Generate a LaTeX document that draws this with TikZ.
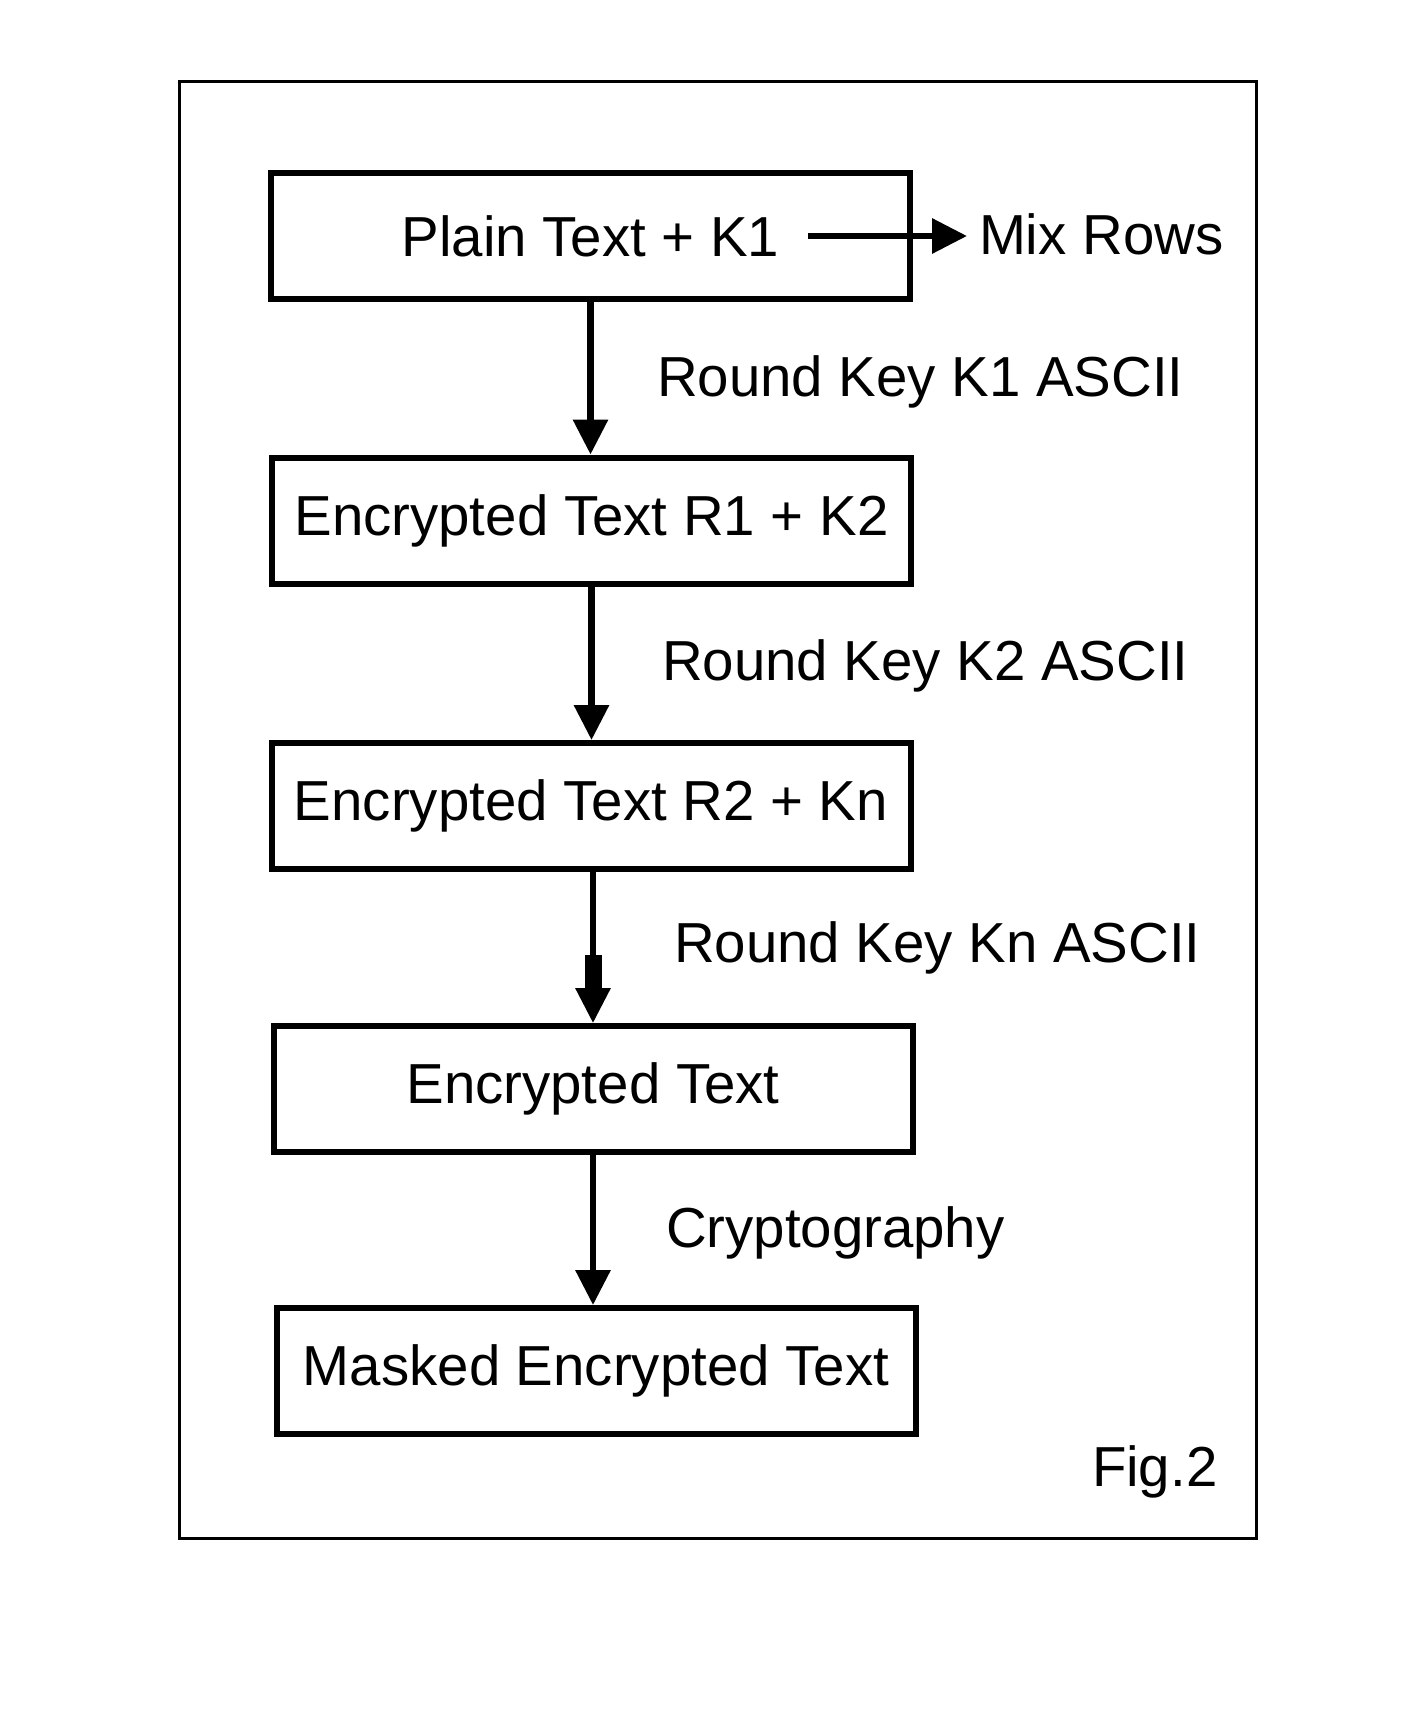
\documentclass[tikz,border=0pt]{standalone}
\usepackage{fontspec}
\setmainfont{Liberation Sans}
\usetikzlibrary{arrows.meta}
\begin{document}
\begin{tikzpicture}[x=0.5pt,y=-0.5pt,
  every node/.style={font=\fontsize{28.2}{34}\selectfont},
  stepbox/.style={draw, line width=3pt, inner sep=0pt, minimum width=319.5pt, minimum height=63pt},
  lbl/.style={anchor=base west, inner sep=0pt, outer sep=0pt},
  arr/.style={line width=3.2pt, -{Triangle[length=17.5pt,width=17pt]}},
  ]
\useasboundingbox (0,0) rectangle (1404,1713);
\draw[line width=1.5pt] (179,81) rectangle (1256,1538);

\node[stepbox] (b1) at (590.5,236) {Plain Text + K1};
\node[stepbox] (b2) at (591.5,520.5) {Encrypted Text R1 + K2};
\node[stepbox] (b3) at (591,806) {Encrypted Text R2 + Kn};
\node[stepbox] (b4) at (593,1089) {Encrypted Text};
\node[stepbox] (b5) at (596,1371) {Masked Encrypted Text};

\node[lbl] (mix) at (979,254) {Mix Rows};
\node[lbl] (k1) at (657,396) {Round Key K1 ASCII};
\node[lbl] (k2) at (662,680) {Round Key K2 ASCII};
\node[lbl] (kn) at (674,962) {Round Key Kn ASCII};
\node[lbl] (cr) at (666,1247) {Cryptography};
\node[lbl] (fig) at (1092,1486) {Fig.2};

\coordinate (mx) at (808,236);
\draw[arr, shorten >=6pt] (mx) -- (mx -| mix.west);

\draw[arr] (b1.south) -- (b1.south |- b2.north);
\draw[arr] (b2.south) -- (b2.south |- b3.north);
\draw[arr] (b3.south -| b4.north) -- (b4.north);
\fill (584.5,955) rectangle (601.5,990);
\draw[arr] (b4.south) -- (b4.south |- b5.north);
\end{tikzpicture}
\end{document}
